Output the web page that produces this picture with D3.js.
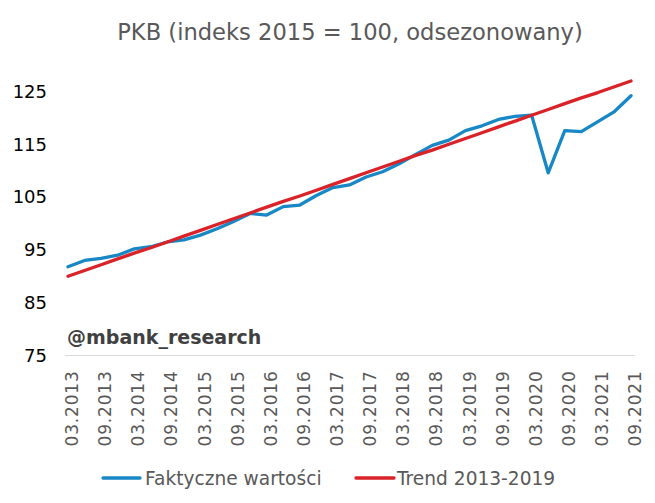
<!DOCTYPE html>
<html>
<head>
<meta charset="utf-8">
<script src="https://cdn.jsdelivr.net/npm/d3@7"></script>
<style>
  html, body { margin: 0; padding: 0; background: #fff; }
  svg { display: block; font-family: "DejaVu Sans", Verdana, sans-serif; }
</style>
</head>
<body>
<svg id="chart" width="655" height="503"></svg>
<script>
const title = "PKB (indeks 2015 = 100, odsezonowany)";
const watermark = "@mbank_research";
const quarters = [
  "03.2013","06.2013","09.2013","12.2013",
  "03.2014","06.2014","09.2014","12.2014",
  "03.2015","06.2015","09.2015","12.2015",
  "03.2016","06.2016","09.2016","12.2016",
  "03.2017","06.2017","09.2017","12.2017",
  "03.2018","06.2018","09.2018","12.2018",
  "03.2019","06.2019","09.2019","12.2019",
  "03.2020","06.2020","09.2020","12.2020",
  "03.2021","06.2021","09.2021"
];
const actual = [
  91.8, 93.0, 93.4, 94.0, 95.2, 95.6, 96.5, 96.9,
  97.8, 99.0, 100.4, 101.9, 101.6, 103.2, 103.5, 105.3,
  106.8, 107.3, 108.8, 109.8, 111.3, 113.1, 114.8, 115.8,
  117.6, 118.5, 119.7, 120.3, 120.5, 109.6, 117.6, 117.4,
  119.3, 121.2, 124.2
];
const trend = [
  90.0, 91.1, 92.2, 93.3, 94.4, 95.4, 96.5, 97.6,
  98.7, 99.8, 100.9, 102.0, 103.1, 104.2, 105.2, 106.3,
  107.4, 108.5, 109.6, 110.7, 111.8, 112.9, 113.9, 115.0,
  116.1, 117.2, 118.3, 119.4, 120.5, 121.6, 122.7, 123.8,
  124.8, 125.9, 127.0
];
const yTicks = [75, 85, 95, 105, 115, 125];
const seriesNames = ["Faktyczne wartości", "Trend 2013-2019"];
const colors = ["#1787c6", "#d92329"];

const svg = d3.select("#chart");

const x = d3.scalePoint().domain(quarters).range([68, 631]);
const y = d3.scaleLinear().domain([75, 125]).range([355.5, 91.5]);

// title
svg.append("text")
  .attr("x", 350).attr("y", 40)
  .attr("text-anchor", "middle")
  .attr("fill", "#595959")
  .attr("font-size", 22.6)
  .text(title);

// x baseline
svg.append("line")
  .attr("x1", 65).attr("x2", 635)
  .attr("y1", y(75)).attr("y2", y(75))
  .attr("stroke", "#d9d9d9").attr("stroke-width", 1);

// y axis labels
const yAxis = d3.axisLeft(y).tickValues(yTicks).tickSize(0).tickPadding(0);
const gy = svg.append("g").attr("transform", "translate(47,0)").call(yAxis);
gy.select(".domain").remove();
gy.selectAll("text")
  .attr("font-size", 18)
  .attr("font-family", "DejaVu Sans, Verdana, sans-serif")
  .attr("fill", "#000");

// x axis labels (every second quarter)
const xAxis = d3.axisBottom(x)
  .tickValues(quarters.filter((d, i) => i % 2 === 0))
  .tickSize(0);
const gx = svg.append("g").attr("transform", `translate(3.5,${y(75)})`).call(xAxis);
gx.select(".domain").remove();
gx.selectAll("text")
  .attr("font-size", 17)
  .attr("font-family", "DejaVu Sans, Verdana, sans-serif")
  .attr("fill", "#595959")
  .attr("letter-spacing", 0.8)
  .attr("text-anchor", "end")
  .attr("transform", "rotate(-90)")
  .attr("x", -15)
  .attr("y", 0)
  .attr("dy", "0.36em");

// watermark
svg.append("text")
  .attr("x", 67).attr("y", 344)
  .attr("fill", "#404040")
  .attr("font-size", 19)
  .attr("font-weight", "bold")
  .text(watermark);

// lines
const line = d3.line().x((d, i) => x(quarters[i])).y(d => y(d));
[actual, trend].forEach((s, k) => {
  svg.append("path")
    .datum(s)
    .attr("d", line)
    .attr("fill", "none")
    .attr("stroke", colors[k])
    .attr("stroke-width", 3.3)
    .attr("stroke-linejoin", "round")
    .attr("stroke-linecap", "round");
});

// legend
const legendItems = [
  { x1: 103, x2: 140, tx: 145 },
  { x1: 356, x2: 394, tx: 397 }
];
const ly = 478;
legendItems.forEach((it, k) => {
  svg.append("line")
    .attr("x1", it.x1).attr("x2", it.x2)
    .attr("y1", ly).attr("y2", ly)
    .attr("stroke", colors[k]).attr("stroke-width", 3.3)
    .attr("stroke-linecap", "round");
  svg.append("text")
    .attr("x", it.tx).attr("y", ly)
    .attr("dy", "0.36em")
    .attr("fill", "#595959")
    .attr("font-size", 18.6)
    .text(seriesNames[k]);
});
</script>
</body>
</html>
